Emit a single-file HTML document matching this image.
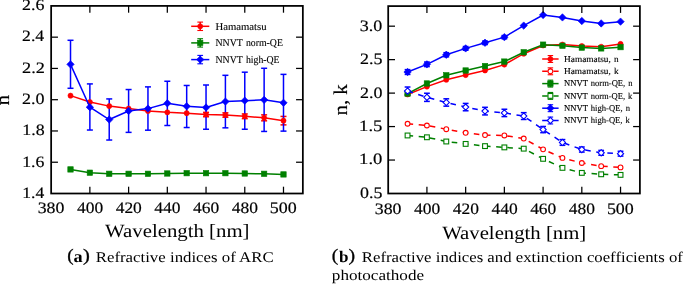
<!DOCTYPE html><html><head><meta charset="utf-8"><style>html,body{margin:0;padding:0;background:#fff;overflow:hidden}svg{display:block;will-change:transform}text{font-family:"Liberation Serif",serif;text-rendering:geometricPrecision}</style></head><body>
<svg width="685" height="284" viewBox="0 0 685 284">
<rect width="685" height="284" fill="#fff"/>
<line x1="206.04" y1="112.36" x2="206.04" y2="116.74" stroke="#ff0000" stroke-width="1.5"/>
<line x1="203.04" y1="112.36" x2="209.04" y2="112.36" stroke="#ff0000" stroke-width="1.5"/>
<line x1="203.04" y1="116.74" x2="209.04" y2="116.74" stroke="#ff0000" stroke-width="1.5"/>
<line x1="225.4" y1="112.83" x2="225.4" y2="117.21" stroke="#ff0000" stroke-width="1.5"/>
<line x1="222.4" y1="112.83" x2="228.4" y2="112.83" stroke="#ff0000" stroke-width="1.5"/>
<line x1="222.4" y1="117.21" x2="228.4" y2="117.21" stroke="#ff0000" stroke-width="1.5"/>
<line x1="244.77" y1="113.93" x2="244.77" y2="118.62" stroke="#ff0000" stroke-width="1.5"/>
<line x1="241.77" y1="113.93" x2="247.77" y2="113.93" stroke="#ff0000" stroke-width="1.5"/>
<line x1="241.77" y1="118.62" x2="247.77" y2="118.62" stroke="#ff0000" stroke-width="1.5"/>
<line x1="264.13" y1="114.86" x2="264.13" y2="120.81" stroke="#ff0000" stroke-width="1.5"/>
<line x1="261.13" y1="114.86" x2="267.13" y2="114.86" stroke="#ff0000" stroke-width="1.5"/>
<line x1="261.13" y1="120.81" x2="267.13" y2="120.81" stroke="#ff0000" stroke-width="1.5"/>
<line x1="283.49" y1="116.43" x2="283.49" y2="124.87" stroke="#ff0000" stroke-width="1.5"/>
<line x1="280.49" y1="116.43" x2="286.49" y2="116.43" stroke="#ff0000" stroke-width="1.5"/>
<line x1="280.49" y1="124.87" x2="286.49" y2="124.87" stroke="#ff0000" stroke-width="1.5"/>
<line x1="70.51" y1="40.29" x2="70.51" y2="88.29" stroke="#0000ff" stroke-width="1.5"/>
<line x1="67.51" y1="40.29" x2="73.51" y2="40.29" stroke="#0000ff" stroke-width="1.5"/>
<line x1="67.51" y1="88.29" x2="73.51" y2="88.29" stroke="#0000ff" stroke-width="1.5"/>
<line x1="89.87" y1="83.91" x2="89.87" y2="130.03" stroke="#0000ff" stroke-width="1.5"/>
<line x1="86.87" y1="83.91" x2="92.87" y2="83.91" stroke="#0000ff" stroke-width="1.5"/>
<line x1="86.87" y1="130.03" x2="92.87" y2="130.03" stroke="#0000ff" stroke-width="1.5"/>
<line x1="109.23" y1="98.92" x2="109.23" y2="140.03" stroke="#0000ff" stroke-width="1.5"/>
<line x1="106.23" y1="98.92" x2="112.23" y2="98.92" stroke="#0000ff" stroke-width="1.5"/>
<line x1="106.23" y1="140.03" x2="112.23" y2="140.03" stroke="#0000ff" stroke-width="1.5"/>
<line x1="128.6" y1="89.54" x2="128.6" y2="132.37" stroke="#0000ff" stroke-width="1.5"/>
<line x1="125.6" y1="89.54" x2="131.6" y2="89.54" stroke="#0000ff" stroke-width="1.5"/>
<line x1="125.6" y1="132.37" x2="131.6" y2="132.37" stroke="#0000ff" stroke-width="1.5"/>
<line x1="147.96" y1="86.88" x2="147.96" y2="130.19" stroke="#0000ff" stroke-width="1.5"/>
<line x1="144.96" y1="86.88" x2="150.96" y2="86.88" stroke="#0000ff" stroke-width="1.5"/>
<line x1="144.96" y1="130.19" x2="150.96" y2="130.19" stroke="#0000ff" stroke-width="1.5"/>
<line x1="167.32" y1="81.25" x2="167.32" y2="125.5" stroke="#0000ff" stroke-width="1.5"/>
<line x1="164.32" y1="81.25" x2="170.32" y2="81.25" stroke="#0000ff" stroke-width="1.5"/>
<line x1="164.32" y1="125.5" x2="170.32" y2="125.5" stroke="#0000ff" stroke-width="1.5"/>
<line x1="186.68" y1="85.47" x2="186.68" y2="127.53" stroke="#0000ff" stroke-width="1.5"/>
<line x1="183.68" y1="85.47" x2="189.68" y2="85.47" stroke="#0000ff" stroke-width="1.5"/>
<line x1="183.68" y1="127.53" x2="189.68" y2="127.53" stroke="#0000ff" stroke-width="1.5"/>
<line x1="206.04" y1="85" x2="206.04" y2="129.25" stroke="#0000ff" stroke-width="1.5"/>
<line x1="203.04" y1="85" x2="209.04" y2="85" stroke="#0000ff" stroke-width="1.5"/>
<line x1="203.04" y1="129.25" x2="209.04" y2="129.25" stroke="#0000ff" stroke-width="1.5"/>
<line x1="225.4" y1="75.31" x2="225.4" y2="127.84" stroke="#0000ff" stroke-width="1.5"/>
<line x1="222.4" y1="75.31" x2="228.4" y2="75.31" stroke="#0000ff" stroke-width="1.5"/>
<line x1="222.4" y1="127.84" x2="228.4" y2="127.84" stroke="#0000ff" stroke-width="1.5"/>
<line x1="244.77" y1="72.19" x2="244.77" y2="129.25" stroke="#0000ff" stroke-width="1.5"/>
<line x1="241.77" y1="72.19" x2="247.77" y2="72.19" stroke="#0000ff" stroke-width="1.5"/>
<line x1="241.77" y1="129.25" x2="247.77" y2="129.25" stroke="#0000ff" stroke-width="1.5"/>
<line x1="264.13" y1="68.28" x2="264.13" y2="131.44" stroke="#0000ff" stroke-width="1.5"/>
<line x1="261.13" y1="68.28" x2="267.13" y2="68.28" stroke="#0000ff" stroke-width="1.5"/>
<line x1="261.13" y1="131.44" x2="267.13" y2="131.44" stroke="#0000ff" stroke-width="1.5"/>
<line x1="283.49" y1="74.37" x2="283.49" y2="131.12" stroke="#0000ff" stroke-width="1.5"/>
<line x1="280.49" y1="74.37" x2="286.49" y2="74.37" stroke="#0000ff" stroke-width="1.5"/>
<line x1="280.49" y1="131.12" x2="286.49" y2="131.12" stroke="#0000ff" stroke-width="1.5"/>
<line x1="200.2" y1="22.1" x2="200.2" y2="30.5" stroke="#ff0000" stroke-width="1.5"/>
<line x1="197.35" y1="22.1" x2="203.05" y2="22.1" stroke="#ff0000" stroke-width="1.1"/>
<line x1="197.35" y1="30.5" x2="203.05" y2="30.5" stroke="#ff0000" stroke-width="1.1"/>
<line x1="200.2" y1="38.7" x2="200.2" y2="47.1" stroke="#008000" stroke-width="1.5"/>
<line x1="197.35" y1="38.7" x2="203.05" y2="38.7" stroke="#008000" stroke-width="1.1"/>
<line x1="197.35" y1="47.1" x2="203.05" y2="47.1" stroke="#008000" stroke-width="1.1"/>
<line x1="200.2" y1="55.4" x2="200.2" y2="63.8" stroke="#0000ff" stroke-width="1.5"/>
<line x1="197.35" y1="55.4" x2="203.05" y2="55.4" stroke="#0000ff" stroke-width="1.1"/>
<line x1="197.35" y1="63.8" x2="203.05" y2="63.8" stroke="#0000ff" stroke-width="1.1"/>
<polyline points="70.51,95.64 89.87,102.05 109.23,106.11 128.6,108.61 147.96,110.96 167.32,112.36 186.68,113.14 206.04,114.55 225.4,115.02 244.77,116.27 264.13,117.83 283.49,120.65" fill="none" stroke="#ff0000" stroke-width="1.5" stroke-linejoin="round"/>
<circle cx="70.51" cy="95.64" r="2.55" fill="#ff0000" stroke="#ff0000" stroke-width="0.6"/>
<circle cx="89.87" cy="102.05" r="2.55" fill="#ff0000" stroke="#ff0000" stroke-width="0.6"/>
<circle cx="109.23" cy="106.11" r="2.55" fill="#ff0000" stroke="#ff0000" stroke-width="0.6"/>
<circle cx="128.6" cy="108.61" r="2.55" fill="#ff0000" stroke="#ff0000" stroke-width="0.6"/>
<circle cx="147.96" cy="110.96" r="2.55" fill="#ff0000" stroke="#ff0000" stroke-width="0.6"/>
<circle cx="167.32" cy="112.36" r="2.55" fill="#ff0000" stroke="#ff0000" stroke-width="0.6"/>
<circle cx="186.68" cy="113.14" r="2.55" fill="#ff0000" stroke="#ff0000" stroke-width="0.6"/>
<circle cx="206.04" cy="114.55" r="2.55" fill="#ff0000" stroke="#ff0000" stroke-width="0.6"/>
<circle cx="225.4" cy="115.02" r="2.55" fill="#ff0000" stroke="#ff0000" stroke-width="0.6"/>
<circle cx="244.77" cy="116.27" r="2.55" fill="#ff0000" stroke="#ff0000" stroke-width="0.6"/>
<circle cx="264.13" cy="117.83" r="2.55" fill="#ff0000" stroke="#ff0000" stroke-width="0.6"/>
<circle cx="283.49" cy="120.65" r="2.55" fill="#ff0000" stroke="#ff0000" stroke-width="0.6"/>
<polyline points="70.51,169.42 89.87,172.71 109.23,173.8 128.6,173.8 147.96,173.8 167.32,173.49 186.68,173.18 206.04,173.18 225.4,173.18 244.77,173.49 264.13,173.8 283.49,174.43" fill="none" stroke="#008000" stroke-width="1.5" stroke-linejoin="round"/>
<rect x="67.81" y="166.72" width="5.4" height="5.4" fill="#008000" stroke="#008000" stroke-width="0.6"/>
<rect x="87.17" y="170.01" width="5.4" height="5.4" fill="#008000" stroke="#008000" stroke-width="0.6"/>
<rect x="106.53" y="171.1" width="5.4" height="5.4" fill="#008000" stroke="#008000" stroke-width="0.6"/>
<rect x="125.9" y="171.1" width="5.4" height="5.4" fill="#008000" stroke="#008000" stroke-width="0.6"/>
<rect x="145.26" y="171.1" width="5.4" height="5.4" fill="#008000" stroke="#008000" stroke-width="0.6"/>
<rect x="164.62" y="170.79" width="5.4" height="5.4" fill="#008000" stroke="#008000" stroke-width="0.6"/>
<rect x="183.98" y="170.48" width="5.4" height="5.4" fill="#008000" stroke="#008000" stroke-width="0.6"/>
<rect x="203.34" y="170.48" width="5.4" height="5.4" fill="#008000" stroke="#008000" stroke-width="0.6"/>
<rect x="222.7" y="170.48" width="5.4" height="5.4" fill="#008000" stroke="#008000" stroke-width="0.6"/>
<rect x="242.07" y="170.79" width="5.4" height="5.4" fill="#008000" stroke="#008000" stroke-width="0.6"/>
<rect x="261.43" y="171.1" width="5.4" height="5.4" fill="#008000" stroke="#008000" stroke-width="0.6"/>
<rect x="280.79" y="171.73" width="5.4" height="5.4" fill="#008000" stroke="#008000" stroke-width="0.6"/>
<polyline points="70.51,64.37 89.87,107.2 109.23,119.55 128.6,110.96 147.96,108.61 167.32,103.3 186.68,106.27 206.04,107.52 225.4,101.58 244.77,100.64 264.13,99.86 283.49,102.83" fill="none" stroke="#0000ff" stroke-width="1.5" stroke-linejoin="round"/>
<path d="M70.51 60.67L74.21 64.37L70.51 68.07L66.81 64.37Z" fill="#0000ff" stroke="#0000ff" stroke-width="0.6"/>
<path d="M89.87 103.5L93.57 107.2L89.87 110.9L86.17 107.2Z" fill="#0000ff" stroke="#0000ff" stroke-width="0.6"/>
<path d="M109.23 115.85L112.93 119.55L109.23 123.25L105.53 119.55Z" fill="#0000ff" stroke="#0000ff" stroke-width="0.6"/>
<path d="M128.6 107.26L132.3 110.96L128.6 114.66L124.9 110.96Z" fill="#0000ff" stroke="#0000ff" stroke-width="0.6"/>
<path d="M147.96 104.91L151.66 108.61L147.96 112.31L144.26 108.61Z" fill="#0000ff" stroke="#0000ff" stroke-width="0.6"/>
<path d="M167.32 99.6L171.02 103.3L167.32 107L163.62 103.3Z" fill="#0000ff" stroke="#0000ff" stroke-width="0.6"/>
<path d="M186.68 102.57L190.38 106.27L186.68 109.97L182.98 106.27Z" fill="#0000ff" stroke="#0000ff" stroke-width="0.6"/>
<path d="M206.04 103.82L209.74 107.52L206.04 111.22L202.34 107.52Z" fill="#0000ff" stroke="#0000ff" stroke-width="0.6"/>
<path d="M225.4 97.88L229.1 101.58L225.4 105.28L221.7 101.58Z" fill="#0000ff" stroke="#0000ff" stroke-width="0.6"/>
<path d="M244.77 96.94L248.47 100.64L244.77 104.34L241.07 100.64Z" fill="#0000ff" stroke="#0000ff" stroke-width="0.6"/>
<path d="M264.13 96.16L267.83 99.86L264.13 103.56L260.43 99.86Z" fill="#0000ff" stroke="#0000ff" stroke-width="0.6"/>
<path d="M283.49 99.13L287.19 102.83L283.49 106.53L279.79 102.83Z" fill="#0000ff" stroke="#0000ff" stroke-width="0.6"/>
<line x1="191.2" y1="26.3" x2="209.3" y2="26.3" stroke="#ff0000" stroke-width="1.5"/>
<circle cx="200.2" cy="26.3" r="2.55" fill="#ff0000" stroke="#ff0000" stroke-width="0.6"/>
<line x1="191.2" y1="42.9" x2="209.3" y2="42.9" stroke="#008000" stroke-width="1.5"/>
<rect x="197.5" y="40.2" width="5.4" height="5.4" fill="#008000" stroke="#008000" stroke-width="0.6"/>
<line x1="191.2" y1="59.6" x2="209.3" y2="59.6" stroke="#0000ff" stroke-width="1.5"/>
<path d="M200.2 55.9L203.9 59.6L200.2 63.3L196.5 59.6Z" fill="#0000ff" stroke="#0000ff" stroke-width="0.6"/>
<line x1="89.87" y1="193.5" x2="89.87" y2="186.7" stroke="#000" stroke-width="1.25"/>
<line x1="89.87" y1="5.9" x2="89.87" y2="12.7" stroke="#000" stroke-width="1.25"/>
<line x1="128.6" y1="193.5" x2="128.6" y2="186.7" stroke="#000" stroke-width="1.25"/>
<line x1="128.6" y1="5.9" x2="128.6" y2="12.7" stroke="#000" stroke-width="1.25"/>
<line x1="167.32" y1="193.5" x2="167.32" y2="186.7" stroke="#000" stroke-width="1.25"/>
<line x1="167.32" y1="5.9" x2="167.32" y2="12.7" stroke="#000" stroke-width="1.25"/>
<line x1="206.04" y1="193.5" x2="206.04" y2="186.7" stroke="#000" stroke-width="1.25"/>
<line x1="206.04" y1="5.9" x2="206.04" y2="12.7" stroke="#000" stroke-width="1.25"/>
<line x1="244.77" y1="193.5" x2="244.77" y2="186.7" stroke="#000" stroke-width="1.25"/>
<line x1="244.77" y1="5.9" x2="244.77" y2="12.7" stroke="#000" stroke-width="1.25"/>
<line x1="283.49" y1="193.5" x2="283.49" y2="186.7" stroke="#000" stroke-width="1.25"/>
<line x1="283.49" y1="5.9" x2="283.49" y2="12.7" stroke="#000" stroke-width="1.25"/>
<line x1="51.15" y1="162.23" x2="57.95" y2="162.23" stroke="#000" stroke-width="1.25"/>
<line x1="302.85" y1="162.23" x2="296.05" y2="162.23" stroke="#000" stroke-width="1.25"/>
<line x1="51.15" y1="130.97" x2="57.95" y2="130.97" stroke="#000" stroke-width="1.25"/>
<line x1="302.85" y1="130.97" x2="296.05" y2="130.97" stroke="#000" stroke-width="1.25"/>
<line x1="51.15" y1="99.7" x2="57.95" y2="99.7" stroke="#000" stroke-width="1.25"/>
<line x1="302.85" y1="99.7" x2="296.05" y2="99.7" stroke="#000" stroke-width="1.25"/>
<line x1="51.15" y1="68.43" x2="57.95" y2="68.43" stroke="#000" stroke-width="1.25"/>
<line x1="302.85" y1="68.43" x2="296.05" y2="68.43" stroke="#000" stroke-width="1.25"/>
<line x1="51.15" y1="37.17" x2="57.95" y2="37.17" stroke="#000" stroke-width="1.25"/>
<line x1="302.85" y1="37.17" x2="296.05" y2="37.17" stroke="#000" stroke-width="1.25"/>
<rect x="51.15" y="5.9" width="251.7" height="187.6" fill="none" stroke="#000" stroke-width="1.75"/>
<text transform="translate(215.49 29.9) scale(1.0188 1)" font-size="10.5" stroke="#000" stroke-width="0.12" fill="#000">Hamamatsu</text>
<text transform="translate(215.52 46.4) scale(0.9325 1)" font-size="10.5" stroke="#000" stroke-width="0.12" word-spacing="1.0" fill="#000">NNVT norm-QE</text>
<text transform="translate(215.52 62.9) scale(0.9319 1)" font-size="10.5" stroke="#000" stroke-width="0.12" word-spacing="1.0" fill="#000">NNVT high-QE</text>
<text transform="translate(22.01 10.2) scale(1.1284 1)" font-size="15.9" stroke="#000" stroke-width="0.18" fill="#000">2.6</text>
<text transform="translate(22.02 41.47) scale(1.1152 1)" font-size="15.9" stroke="#000" stroke-width="0.18" fill="#000">2.4</text>
<text transform="translate(21.99 72.73) scale(1.1529 1)" font-size="15.9" stroke="#000" stroke-width="0.18" fill="#000">2.2</text>
<text transform="translate(22.01 104) scale(1.1362 1)" font-size="15.9" stroke="#000" stroke-width="0.18" fill="#000">2.0</text>
<text transform="translate(22.23 135.27) scale(1.1247 1)" font-size="15.9" stroke="#000" stroke-width="0.18" fill="#000">1.8</text>
<text transform="translate(22.24 166.53) scale(1.1167 1)" font-size="15.9" stroke="#000" stroke-width="0.18" fill="#000">1.6</text>
<text transform="translate(22.26 197.8) scale(1.1031 1)" font-size="15.9" stroke="#000" stroke-width="0.18" fill="#000">1.4</text>
<text transform="translate(37.69 212.8) scale(1.1209 1)" font-size="15.9" stroke="#000" stroke-width="0.18" fill="#000">380</text>
<text transform="translate(76.92 212.8) scale(1.0991 1)" font-size="15.9" stroke="#000" stroke-width="0.18" fill="#000">400</text>
<text transform="translate(115.65 212.8) scale(1.0991 1)" font-size="15.9" stroke="#000" stroke-width="0.18" fill="#000">420</text>
<text transform="translate(154.37 212.8) scale(1.0991 1)" font-size="15.9" stroke="#000" stroke-width="0.18" fill="#000">440</text>
<text transform="translate(193.09 212.8) scale(1.0991 1)" font-size="15.9" stroke="#000" stroke-width="0.18" fill="#000">460</text>
<text transform="translate(231.82 212.8) scale(1.0991 1)" font-size="15.9" stroke="#000" stroke-width="0.18" fill="#000">480</text>
<text transform="translate(269.85 212.8) scale(1.1289 1)" font-size="15.9" stroke="#000" stroke-width="0.18" fill="#000">500</text>
<text transform="translate(105.08 237) scale(1.1072 1)" font-size="18.8" fill="#000">Wavelength [nm]</text>
<text transform="translate(9.3 105.39) rotate(-90) scale(1.0878 1)" font-size="19.5" stroke="#000" stroke-width="0.18" fill="#000">n</text>
<line x1="407.56" y1="69.62" x2="407.56" y2="74.43" stroke="#0000ff" stroke-width="1.5"/>
<line x1="404.66" y1="69.62" x2="410.46" y2="69.62" stroke="#0000ff" stroke-width="1.5"/>
<line x1="404.66" y1="74.43" x2="410.46" y2="74.43" stroke="#0000ff" stroke-width="1.5"/>
<line x1="426.92" y1="62.05" x2="426.92" y2="66.6" stroke="#0000ff" stroke-width="1.5"/>
<line x1="424.02" y1="62.05" x2="429.82" y2="62.05" stroke="#0000ff" stroke-width="1.5"/>
<line x1="424.02" y1="66.6" x2="429.82" y2="66.6" stroke="#0000ff" stroke-width="1.5"/>
<line x1="446.28" y1="52.68" x2="446.28" y2="56.83" stroke="#0000ff" stroke-width="1.5"/>
<line x1="443.38" y1="52.68" x2="449.18" y2="52.68" stroke="#0000ff" stroke-width="1.5"/>
<line x1="443.38" y1="56.83" x2="449.18" y2="56.83" stroke="#0000ff" stroke-width="1.5"/>
<line x1="465.65" y1="46.52" x2="465.65" y2="50.27" stroke="#0000ff" stroke-width="1.5"/>
<line x1="462.75" y1="46.52" x2="468.55" y2="46.52" stroke="#0000ff" stroke-width="1.5"/>
<line x1="462.75" y1="50.27" x2="468.55" y2="50.27" stroke="#0000ff" stroke-width="1.5"/>
<line x1="485.01" y1="41.04" x2="485.01" y2="44.52" stroke="#0000ff" stroke-width="1.5"/>
<line x1="482.11" y1="41.04" x2="487.91" y2="41.04" stroke="#0000ff" stroke-width="1.5"/>
<line x1="482.11" y1="44.52" x2="487.91" y2="44.52" stroke="#0000ff" stroke-width="1.5"/>
<line x1="504.37" y1="35.55" x2="504.37" y2="38.76" stroke="#0000ff" stroke-width="1.5"/>
<line x1="501.47" y1="35.55" x2="507.27" y2="35.55" stroke="#0000ff" stroke-width="1.5"/>
<line x1="501.47" y1="38.76" x2="507.27" y2="38.76" stroke="#0000ff" stroke-width="1.5"/>
<line x1="407.56" y1="87.02" x2="407.56" y2="95.05" stroke="#0000ff" stroke-width="1.5"/>
<line x1="404.66" y1="87.02" x2="410.46" y2="87.02" stroke="#0000ff" stroke-width="1.5"/>
<line x1="404.66" y1="95.05" x2="410.46" y2="95.05" stroke="#0000ff" stroke-width="1.5"/>
<line x1="426.92" y1="93.24" x2="426.92" y2="101.41" stroke="#0000ff" stroke-width="1.5"/>
<line x1="424.02" y1="93.24" x2="429.82" y2="93.24" stroke="#0000ff" stroke-width="1.5"/>
<line x1="424.02" y1="101.41" x2="429.82" y2="101.41" stroke="#0000ff" stroke-width="1.5"/>
<line x1="446.28" y1="98.8" x2="446.28" y2="106.16" stroke="#0000ff" stroke-width="1.5"/>
<line x1="443.38" y1="98.8" x2="449.18" y2="98.8" stroke="#0000ff" stroke-width="1.5"/>
<line x1="443.38" y1="106.16" x2="449.18" y2="106.16" stroke="#0000ff" stroke-width="1.5"/>
<line x1="465.65" y1="103.41" x2="465.65" y2="110.78" stroke="#0000ff" stroke-width="1.5"/>
<line x1="462.75" y1="103.41" x2="468.55" y2="103.41" stroke="#0000ff" stroke-width="1.5"/>
<line x1="462.75" y1="110.78" x2="468.55" y2="110.78" stroke="#0000ff" stroke-width="1.5"/>
<line x1="485.01" y1="107.3" x2="485.01" y2="114.93" stroke="#0000ff" stroke-width="1.5"/>
<line x1="482.11" y1="107.3" x2="487.91" y2="107.3" stroke="#0000ff" stroke-width="1.5"/>
<line x1="482.11" y1="114.93" x2="487.91" y2="114.93" stroke="#0000ff" stroke-width="1.5"/>
<line x1="504.37" y1="109.24" x2="504.37" y2="116.6" stroke="#0000ff" stroke-width="1.5"/>
<line x1="501.47" y1="109.24" x2="507.27" y2="109.24" stroke="#0000ff" stroke-width="1.5"/>
<line x1="501.47" y1="116.6" x2="507.27" y2="116.6" stroke="#0000ff" stroke-width="1.5"/>
<line x1="523.73" y1="112.65" x2="523.73" y2="119.48" stroke="#0000ff" stroke-width="1.5"/>
<line x1="520.83" y1="112.65" x2="526.63" y2="112.65" stroke="#0000ff" stroke-width="1.5"/>
<line x1="520.83" y1="119.48" x2="526.63" y2="119.48" stroke="#0000ff" stroke-width="1.5"/>
<line x1="543.09" y1="126.5" x2="543.09" y2="132.66" stroke="#0000ff" stroke-width="1.5"/>
<line x1="540.19" y1="126.5" x2="545.99" y2="126.5" stroke="#0000ff" stroke-width="1.5"/>
<line x1="540.19" y1="132.66" x2="545.99" y2="132.66" stroke="#0000ff" stroke-width="1.5"/>
<line x1="562.45" y1="139.56" x2="562.45" y2="145.31" stroke="#0000ff" stroke-width="1.5"/>
<line x1="559.55" y1="139.56" x2="565.35" y2="139.56" stroke="#0000ff" stroke-width="1.5"/>
<line x1="559.55" y1="145.31" x2="565.35" y2="145.31" stroke="#0000ff" stroke-width="1.5"/>
<line x1="581.82" y1="146.98" x2="581.82" y2="152.07" stroke="#0000ff" stroke-width="1.5"/>
<line x1="578.92" y1="146.98" x2="584.72" y2="146.98" stroke="#0000ff" stroke-width="1.5"/>
<line x1="578.92" y1="152.07" x2="584.72" y2="152.07" stroke="#0000ff" stroke-width="1.5"/>
<line x1="601.18" y1="150.4" x2="601.18" y2="155.22" stroke="#0000ff" stroke-width="1.5"/>
<line x1="598.28" y1="150.4" x2="604.08" y2="150.4" stroke="#0000ff" stroke-width="1.5"/>
<line x1="598.28" y1="155.22" x2="604.08" y2="155.22" stroke="#0000ff" stroke-width="1.5"/>
<line x1="620.54" y1="151.27" x2="620.54" y2="156.09" stroke="#0000ff" stroke-width="1.5"/>
<line x1="617.64" y1="151.27" x2="623.44" y2="151.27" stroke="#0000ff" stroke-width="1.5"/>
<line x1="617.64" y1="156.09" x2="623.44" y2="156.09" stroke="#0000ff" stroke-width="1.5"/>
<line x1="550.4" y1="55.55" x2="550.4" y2="62.45" stroke="#ff0000" stroke-width="1.5"/>
<line x1="547.65" y1="55.55" x2="553.15" y2="55.55" stroke="#ff0000" stroke-width="1.1"/>
<line x1="547.65" y1="62.45" x2="553.15" y2="62.45" stroke="#ff0000" stroke-width="1.1"/>
<line x1="550.4" y1="67.85" x2="550.4" y2="74.75" stroke="#ff0000" stroke-width="1.5"/>
<line x1="547.65" y1="67.85" x2="553.15" y2="67.85" stroke="#ff0000" stroke-width="1.1"/>
<line x1="547.65" y1="74.75" x2="553.15" y2="74.75" stroke="#ff0000" stroke-width="1.1"/>
<line x1="550.4" y1="80.15" x2="550.4" y2="87.05" stroke="#008000" stroke-width="1.5"/>
<line x1="547.65" y1="80.15" x2="553.15" y2="80.15" stroke="#008000" stroke-width="1.1"/>
<line x1="547.65" y1="87.05" x2="553.15" y2="87.05" stroke="#008000" stroke-width="1.1"/>
<line x1="550.4" y1="92.45" x2="550.4" y2="99.35" stroke="#008000" stroke-width="1.5"/>
<line x1="547.65" y1="92.45" x2="553.15" y2="92.45" stroke="#008000" stroke-width="1.1"/>
<line x1="547.65" y1="99.35" x2="553.15" y2="99.35" stroke="#008000" stroke-width="1.1"/>
<line x1="550.4" y1="104.75" x2="550.4" y2="111.65" stroke="#0000ff" stroke-width="1.5"/>
<line x1="547.65" y1="104.75" x2="553.15" y2="104.75" stroke="#0000ff" stroke-width="1.1"/>
<line x1="547.65" y1="111.65" x2="553.15" y2="111.65" stroke="#0000ff" stroke-width="1.1"/>
<line x1="550.4" y1="117.05" x2="550.4" y2="123.95" stroke="#0000ff" stroke-width="1.5"/>
<line x1="547.65" y1="117.05" x2="553.15" y2="117.05" stroke="#0000ff" stroke-width="1.1"/>
<line x1="547.65" y1="123.95" x2="553.15" y2="123.95" stroke="#0000ff" stroke-width="1.1"/>
<polyline points="407.56,94.45 426.92,86.62 446.28,79.79 465.65,75.1 485.01,70.49 504.37,64.6 523.73,53.69 543.09,45.45 562.45,44.58 581.82,45.99 601.18,46.73 620.54,43.91" fill="none" stroke="#ff0000" stroke-width="1.5" stroke-linejoin="round"/>
<circle cx="407.56" cy="94.45" r="2.55" fill="#ff0000" stroke="#ff0000" stroke-width="0.6"/>
<circle cx="426.92" cy="86.62" r="2.55" fill="#ff0000" stroke="#ff0000" stroke-width="0.6"/>
<circle cx="446.28" cy="79.79" r="2.55" fill="#ff0000" stroke="#ff0000" stroke-width="0.6"/>
<circle cx="465.65" cy="75.1" r="2.55" fill="#ff0000" stroke="#ff0000" stroke-width="0.6"/>
<circle cx="485.01" cy="70.49" r="2.55" fill="#ff0000" stroke="#ff0000" stroke-width="0.6"/>
<circle cx="504.37" cy="64.6" r="2.55" fill="#ff0000" stroke="#ff0000" stroke-width="0.6"/>
<circle cx="523.73" cy="53.69" r="2.55" fill="#ff0000" stroke="#ff0000" stroke-width="0.6"/>
<circle cx="543.09" cy="45.45" r="2.55" fill="#ff0000" stroke="#ff0000" stroke-width="0.6"/>
<circle cx="562.45" cy="44.58" r="2.55" fill="#ff0000" stroke="#ff0000" stroke-width="0.6"/>
<circle cx="581.82" cy="45.99" r="2.55" fill="#ff0000" stroke="#ff0000" stroke-width="0.6"/>
<circle cx="601.18" cy="46.73" r="2.55" fill="#ff0000" stroke="#ff0000" stroke-width="0.6"/>
<circle cx="620.54" cy="43.91" r="2.55" fill="#ff0000" stroke="#ff0000" stroke-width="0.6"/>
<polyline points="407.56,123.76 426.92,125.5 446.28,129.18 465.65,132.8 485.01,135.07 504.37,135.47 523.73,138.55 543.09,149.33 562.45,157.89 581.82,162.98 601.18,166.13 620.54,167.4" fill="none" stroke="#ff0000" stroke-width="1.5" stroke-linejoin="round" stroke-dasharray="5.59 5.59"/>
<circle cx="407.56" cy="123.76" r="2.4" fill="#fff" stroke="#ff0000" stroke-width="1.1"/>
<circle cx="426.92" cy="125.5" r="2.4" fill="#fff" stroke="#ff0000" stroke-width="1.1"/>
<circle cx="446.28" cy="129.18" r="2.4" fill="#fff" stroke="#ff0000" stroke-width="1.1"/>
<circle cx="465.65" cy="132.8" r="2.4" fill="#fff" stroke="#ff0000" stroke-width="1.1"/>
<circle cx="485.01" cy="135.07" r="2.4" fill="#fff" stroke="#ff0000" stroke-width="1.1"/>
<circle cx="504.37" cy="135.47" r="2.4" fill="#fff" stroke="#ff0000" stroke-width="1.1"/>
<circle cx="523.73" cy="138.55" r="2.4" fill="#fff" stroke="#ff0000" stroke-width="1.1"/>
<circle cx="543.09" cy="149.33" r="2.4" fill="#fff" stroke="#ff0000" stroke-width="1.1"/>
<circle cx="562.45" cy="157.89" r="2.4" fill="#fff" stroke="#ff0000" stroke-width="1.1"/>
<circle cx="581.82" cy="162.98" r="2.4" fill="#fff" stroke="#ff0000" stroke-width="1.1"/>
<circle cx="601.18" cy="166.13" r="2.4" fill="#fff" stroke="#ff0000" stroke-width="1.1"/>
<circle cx="620.54" cy="167.4" r="2.4" fill="#fff" stroke="#ff0000" stroke-width="1.1"/>
<polyline points="407.56,93.58 426.92,83.47 446.28,75.3 465.65,70.49 485.01,66.07 504.37,61.58 523.73,52.28 543.09,44.65 562.45,45.72 581.82,47.6 601.18,48.4 620.54,47.13" fill="none" stroke="#008000" stroke-width="1.5" stroke-linejoin="round"/>
<rect x="404.86" y="90.88" width="5.4" height="5.4" fill="#008000" stroke="#008000" stroke-width="0.6"/>
<rect x="424.22" y="80.77" width="5.4" height="5.4" fill="#008000" stroke="#008000" stroke-width="0.6"/>
<rect x="443.58" y="72.6" width="5.4" height="5.4" fill="#008000" stroke="#008000" stroke-width="0.6"/>
<rect x="462.95" y="67.79" width="5.4" height="5.4" fill="#008000" stroke="#008000" stroke-width="0.6"/>
<rect x="482.31" y="63.37" width="5.4" height="5.4" fill="#008000" stroke="#008000" stroke-width="0.6"/>
<rect x="501.67" y="58.88" width="5.4" height="5.4" fill="#008000" stroke="#008000" stroke-width="0.6"/>
<rect x="521.03" y="49.58" width="5.4" height="5.4" fill="#008000" stroke="#008000" stroke-width="0.6"/>
<rect x="540.39" y="41.95" width="5.4" height="5.4" fill="#008000" stroke="#008000" stroke-width="0.6"/>
<rect x="559.75" y="43.02" width="5.4" height="5.4" fill="#008000" stroke="#008000" stroke-width="0.6"/>
<rect x="579.12" y="44.9" width="5.4" height="5.4" fill="#008000" stroke="#008000" stroke-width="0.6"/>
<rect x="598.48" y="45.7" width="5.4" height="5.4" fill="#008000" stroke="#008000" stroke-width="0.6"/>
<rect x="617.84" y="44.43" width="5.4" height="5.4" fill="#008000" stroke="#008000" stroke-width="0.6"/>
<polyline points="407.56,135.47 426.92,137.28 446.28,141.5 465.65,143.91 485.01,146.11 504.37,147.39 523.73,148.66 543.09,158.83 562.45,167.87 581.82,172.89 601.18,174.29 620.54,174.89" fill="none" stroke="#008000" stroke-width="1.5" stroke-linejoin="round" stroke-dasharray="5.59 5.59"/>
<rect x="405.16" y="133.07" width="4.8" height="4.8" fill="#fff" stroke="#008000" stroke-width="1.1"/>
<rect x="424.52" y="134.88" width="4.8" height="4.8" fill="#fff" stroke="#008000" stroke-width="1.1"/>
<rect x="443.88" y="139.1" width="4.8" height="4.8" fill="#fff" stroke="#008000" stroke-width="1.1"/>
<rect x="463.25" y="141.51" width="4.8" height="4.8" fill="#fff" stroke="#008000" stroke-width="1.1"/>
<rect x="482.61" y="143.71" width="4.8" height="4.8" fill="#fff" stroke="#008000" stroke-width="1.1"/>
<rect x="501.97" y="144.99" width="4.8" height="4.8" fill="#fff" stroke="#008000" stroke-width="1.1"/>
<rect x="521.33" y="146.26" width="4.8" height="4.8" fill="#fff" stroke="#008000" stroke-width="1.1"/>
<rect x="540.69" y="156.43" width="4.8" height="4.8" fill="#fff" stroke="#008000" stroke-width="1.1"/>
<rect x="560.05" y="165.47" width="4.8" height="4.8" fill="#fff" stroke="#008000" stroke-width="1.1"/>
<rect x="579.42" y="170.49" width="4.8" height="4.8" fill="#fff" stroke="#008000" stroke-width="1.1"/>
<rect x="598.78" y="171.89" width="4.8" height="4.8" fill="#fff" stroke="#008000" stroke-width="1.1"/>
<rect x="618.14" y="172.49" width="4.8" height="4.8" fill="#fff" stroke="#008000" stroke-width="1.1"/>
<polyline points="407.56,72.02 426.92,64.33 446.28,54.76 465.65,48.4 485.01,42.78 504.37,37.15 523.73,25.58 543.09,15 562.45,17.41 581.82,21.03 601.18,23.43 620.54,21.63" fill="none" stroke="#0000ff" stroke-width="1.5" stroke-linejoin="round"/>
<path d="M407.56 68.32L411.26 72.02L407.56 75.72L403.86 72.02Z" fill="#0000ff" stroke="#0000ff" stroke-width="0.6"/>
<path d="M426.92 60.63L430.62 64.33L426.92 68.03L423.22 64.33Z" fill="#0000ff" stroke="#0000ff" stroke-width="0.6"/>
<path d="M446.28 51.06L449.98 54.76L446.28 58.46L442.58 54.76Z" fill="#0000ff" stroke="#0000ff" stroke-width="0.6"/>
<path d="M465.65 44.7L469.35 48.4L465.65 52.1L461.95 48.4Z" fill="#0000ff" stroke="#0000ff" stroke-width="0.6"/>
<path d="M485.01 39.08L488.71 42.78L485.01 46.48L481.31 42.78Z" fill="#0000ff" stroke="#0000ff" stroke-width="0.6"/>
<path d="M504.37 33.45L508.07 37.15L504.37 40.85L500.67 37.15Z" fill="#0000ff" stroke="#0000ff" stroke-width="0.6"/>
<path d="M523.73 21.88L527.43 25.58L523.73 29.28L520.03 25.58Z" fill="#0000ff" stroke="#0000ff" stroke-width="0.6"/>
<path d="M543.09 11.3L546.79 15L543.09 18.7L539.39 15Z" fill="#0000ff" stroke="#0000ff" stroke-width="0.6"/>
<path d="M562.45 13.71L566.15 17.41L562.45 21.11L558.75 17.41Z" fill="#0000ff" stroke="#0000ff" stroke-width="0.6"/>
<path d="M581.82 17.33L585.52 21.03L581.82 24.73L578.12 21.03Z" fill="#0000ff" stroke="#0000ff" stroke-width="0.6"/>
<path d="M601.18 19.73L604.88 23.43L601.18 27.13L597.48 23.43Z" fill="#0000ff" stroke="#0000ff" stroke-width="0.6"/>
<path d="M620.54 17.93L624.24 21.63L620.54 25.33L616.84 21.63Z" fill="#0000ff" stroke="#0000ff" stroke-width="0.6"/>
<polyline points="407.56,91.03 426.92,97.32 446.28,102.48 465.65,107.1 485.01,111.11 504.37,112.92 523.73,116.06 543.09,129.58 562.45,142.43 581.82,149.53 601.18,152.81 620.54,153.68" fill="none" stroke="#0000ff" stroke-width="1.5" stroke-linejoin="round" stroke-dasharray="5.59 5.59"/>
<path d="M407.56 87.93L410.66 91.03L407.56 94.13L404.46 91.03Z" fill="#fff" stroke="#0000ff" stroke-width="1.1"/>
<path d="M426.92 94.22L430.02 97.32L426.92 100.42L423.82 97.32Z" fill="#fff" stroke="#0000ff" stroke-width="1.1"/>
<path d="M446.28 99.38L449.38 102.48L446.28 105.58L443.18 102.48Z" fill="#fff" stroke="#0000ff" stroke-width="1.1"/>
<path d="M465.65 104L468.75 107.1L465.65 110.2L462.55 107.1Z" fill="#fff" stroke="#0000ff" stroke-width="1.1"/>
<path d="M485.01 108.01L488.11 111.11L485.01 114.21L481.91 111.11Z" fill="#fff" stroke="#0000ff" stroke-width="1.1"/>
<path d="M504.37 109.82L507.47 112.92L504.37 116.02L501.27 112.92Z" fill="#fff" stroke="#0000ff" stroke-width="1.1"/>
<path d="M523.73 112.96L526.83 116.06L523.73 119.16L520.63 116.06Z" fill="#fff" stroke="#0000ff" stroke-width="1.1"/>
<path d="M543.09 126.48L546.19 129.58L543.09 132.68L539.99 129.58Z" fill="#fff" stroke="#0000ff" stroke-width="1.1"/>
<path d="M562.45 139.33L565.55 142.43L562.45 145.53L559.35 142.43Z" fill="#fff" stroke="#0000ff" stroke-width="1.1"/>
<path d="M581.82 146.43L584.92 149.53L581.82 152.63L578.72 149.53Z" fill="#fff" stroke="#0000ff" stroke-width="1.1"/>
<path d="M601.18 149.71L604.28 152.81L601.18 155.91L598.08 152.81Z" fill="#fff" stroke="#0000ff" stroke-width="1.1"/>
<path d="M620.54 150.58L623.64 153.68L620.54 156.78L617.44 153.68Z" fill="#fff" stroke="#0000ff" stroke-width="1.1"/>
<line x1="542.2" y1="59" x2="558.6" y2="59" stroke="#ff0000" stroke-width="1.5"/>
<circle cx="550.4" cy="59" r="2.55" fill="#ff0000" stroke="#ff0000" stroke-width="0.6"/>
<line x1="542.2" y1="71.3" x2="558.6" y2="71.3" stroke="#ff0000" stroke-width="1.5" stroke-dasharray="5.59 5.59"/>
<circle cx="550.4" cy="71.3" r="2.4" fill="#fff" stroke="#ff0000" stroke-width="1.1"/>
<line x1="542.2" y1="83.6" x2="558.6" y2="83.6" stroke="#008000" stroke-width="1.5"/>
<rect x="547.7" y="80.9" width="5.4" height="5.4" fill="#008000" stroke="#008000" stroke-width="0.6"/>
<line x1="542.2" y1="95.9" x2="558.6" y2="95.9" stroke="#008000" stroke-width="1.5" stroke-dasharray="5.59 5.59"/>
<rect x="548" y="93.5" width="4.8" height="4.8" fill="#fff" stroke="#008000" stroke-width="1.1"/>
<line x1="542.2" y1="108.2" x2="558.6" y2="108.2" stroke="#0000ff" stroke-width="1.5"/>
<path d="M550.4 104.5L554.1 108.2L550.4 111.9L546.7 108.2Z" fill="#0000ff" stroke="#0000ff" stroke-width="0.6"/>
<line x1="542.2" y1="120.5" x2="558.6" y2="120.5" stroke="#0000ff" stroke-width="1.5" stroke-dasharray="5.59 5.59"/>
<path d="M550.4 117.4L553.5 120.5L550.4 123.6L547.3 120.5Z" fill="#fff" stroke="#0000ff" stroke-width="1.1"/>
<line x1="426.92" y1="193.5" x2="426.92" y2="186.7" stroke="#000" stroke-width="1.25"/>
<line x1="426.92" y1="6.1" x2="426.92" y2="12.9" stroke="#000" stroke-width="1.25"/>
<line x1="465.65" y1="193.5" x2="465.65" y2="186.7" stroke="#000" stroke-width="1.25"/>
<line x1="465.65" y1="6.1" x2="465.65" y2="12.9" stroke="#000" stroke-width="1.25"/>
<line x1="504.37" y1="193.5" x2="504.37" y2="186.7" stroke="#000" stroke-width="1.25"/>
<line x1="504.37" y1="6.1" x2="504.37" y2="12.9" stroke="#000" stroke-width="1.25"/>
<line x1="543.09" y1="193.5" x2="543.09" y2="186.7" stroke="#000" stroke-width="1.25"/>
<line x1="543.09" y1="6.1" x2="543.09" y2="12.9" stroke="#000" stroke-width="1.25"/>
<line x1="581.82" y1="193.5" x2="581.82" y2="186.7" stroke="#000" stroke-width="1.25"/>
<line x1="581.82" y1="6.1" x2="581.82" y2="12.9" stroke="#000" stroke-width="1.25"/>
<line x1="620.54" y1="193.5" x2="620.54" y2="186.7" stroke="#000" stroke-width="1.25"/>
<line x1="620.54" y1="6.1" x2="620.54" y2="12.9" stroke="#000" stroke-width="1.25"/>
<line x1="388.2" y1="160.04" x2="395" y2="160.04" stroke="#000" stroke-width="1.25"/>
<line x1="639.9" y1="160.04" x2="633.1" y2="160.04" stroke="#000" stroke-width="1.25"/>
<line x1="388.2" y1="126.57" x2="395" y2="126.57" stroke="#000" stroke-width="1.25"/>
<line x1="639.9" y1="126.57" x2="633.1" y2="126.57" stroke="#000" stroke-width="1.25"/>
<line x1="388.2" y1="93.11" x2="395" y2="93.11" stroke="#000" stroke-width="1.25"/>
<line x1="639.9" y1="93.11" x2="633.1" y2="93.11" stroke="#000" stroke-width="1.25"/>
<line x1="388.2" y1="59.64" x2="395" y2="59.64" stroke="#000" stroke-width="1.25"/>
<line x1="639.9" y1="59.64" x2="633.1" y2="59.64" stroke="#000" stroke-width="1.25"/>
<line x1="388.2" y1="26.18" x2="395" y2="26.18" stroke="#000" stroke-width="1.25"/>
<line x1="639.9" y1="26.18" x2="633.1" y2="26.18" stroke="#000" stroke-width="1.25"/>
<rect x="388.2" y="6.1" width="251.7" height="187.4" fill="none" stroke="#000" stroke-width="1.75"/>
<text transform="translate(564.03 61.7) scale(1.0345 1)" font-size="9.0" stroke="#000" stroke-width="0.12" word-spacing="0.9" fill="#000">Hamamatsu, n</text>
<text transform="translate(564.03 74) scale(1.0319 1)" font-size="9.0" stroke="#000" stroke-width="0.12" word-spacing="0.9" fill="#000">Hamamatsu, k</text>
<text transform="translate(564.05 86.3) scale(0.9527 1)" font-size="9.0" stroke="#000" stroke-width="0.12" word-spacing="0.9" fill="#000">NNVT norm-QE, n</text>
<text transform="translate(564.05 98.6) scale(0.9509 1)" font-size="9.0" stroke="#000" stroke-width="0.12" word-spacing="0.9" fill="#000">NNVT norm-QE, k</text>
<text transform="translate(564.05 110.9) scale(0.9565 1)" font-size="9.0" stroke="#000" stroke-width="0.12" word-spacing="0.9" fill="#000">NNVT high-QE, n</text>
<text transform="translate(564.05 123.2) scale(0.9546 1)" font-size="9.0" stroke="#000" stroke-width="0.12" word-spacing="0.9" fill="#000">NNVT high-QE, k</text>
<text transform="translate(359.83 30.58) scale(1.1347 1)" font-size="15.9" stroke="#000" stroke-width="0.18" fill="#000">3.0</text>
<text transform="translate(359.91 64.04) scale(1.1318 1)" font-size="15.9" stroke="#000" stroke-width="0.18" fill="#000">2.5</text>
<text transform="translate(359.91 97.51) scale(1.1308 1)" font-size="15.9" stroke="#000" stroke-width="0.18" fill="#000">2.0</text>
<text transform="translate(359.05 130.97) scale(1.1761 1)" font-size="15.9" stroke="#000" stroke-width="0.18" fill="#000">1.5</text>
<text transform="translate(359.06 164.44) scale(1.1750 1)" font-size="15.9" stroke="#000" stroke-width="0.18" fill="#000">1.0</text>
<text transform="translate(360.02 197.9) scale(1.1260 1)" font-size="15.9" stroke="#000" stroke-width="0.18" fill="#000">0.5</text>
<text transform="translate(374.74 213.6) scale(1.1209 1)" font-size="15.9" stroke="#000" stroke-width="0.18" fill="#000">380</text>
<text transform="translate(413.97 213.6) scale(1.0991 1)" font-size="15.9" stroke="#000" stroke-width="0.18" fill="#000">400</text>
<text transform="translate(452.7 213.6) scale(1.0991 1)" font-size="15.9" stroke="#000" stroke-width="0.18" fill="#000">420</text>
<text transform="translate(491.42 213.6) scale(1.0991 1)" font-size="15.9" stroke="#000" stroke-width="0.18" fill="#000">440</text>
<text transform="translate(530.14 213.6) scale(1.0991 1)" font-size="15.9" stroke="#000" stroke-width="0.18" fill="#000">460</text>
<text transform="translate(568.87 213.6) scale(1.0991 1)" font-size="15.9" stroke="#000" stroke-width="0.18" fill="#000">480</text>
<text transform="translate(606.9 213.6) scale(1.1289 1)" font-size="15.9" stroke="#000" stroke-width="0.18" fill="#000">500</text>
<text transform="translate(442.18 239.1) scale(1.1041 1)" font-size="18.8" fill="#000">Wavelength [nm]</text>
<text transform="translate(347.1 115.48) rotate(-90) scale(1.0694 1)" font-size="19.5" stroke="#000" stroke-width="0.18" fill="#000">n, k</text>
<text transform="translate(67.26 261) scale(1.0833 1)" font-size="17.6" stroke="#000" stroke-width="0.3" fill="#000">(</text>
<text transform="translate(73.61 261.7) scale(1.0906 1)" font-size="16.8" font-weight="bold" fill="#000">a</text>
<text transform="translate(82.94 261) scale(1.1717 1)" font-size="17.6" stroke="#000" stroke-width="0.3" fill="#000">)</text>
<text transform="translate(95.71 261.7) scale(1.1367 1)" font-size="14.8" fill="#000">Refractive indices of ARC</text>
<text transform="translate(331.64 261) scale(1.1054 1)" font-size="17.6" stroke="#000" stroke-width="0.3" fill="#000">(</text>
<text transform="translate(338.98 261.7) scale(1.0554 1)" font-size="16.2" font-weight="bold" fill="#000">b</text>
<text transform="translate(348.56 261) scale(1.1275 1)" font-size="17.6" stroke="#000" stroke-width="0.3" fill="#000">)</text>
<text transform="translate(361.81 261.7) scale(1.1318 1)" font-size="14.8" fill="#000">Refractive indices and extinction coefficients of</text>
<text transform="translate(331.83 280.2) scale(1.1574 1)" font-size="14.8" fill="#000">photocathode</text>
</svg></body></html>
